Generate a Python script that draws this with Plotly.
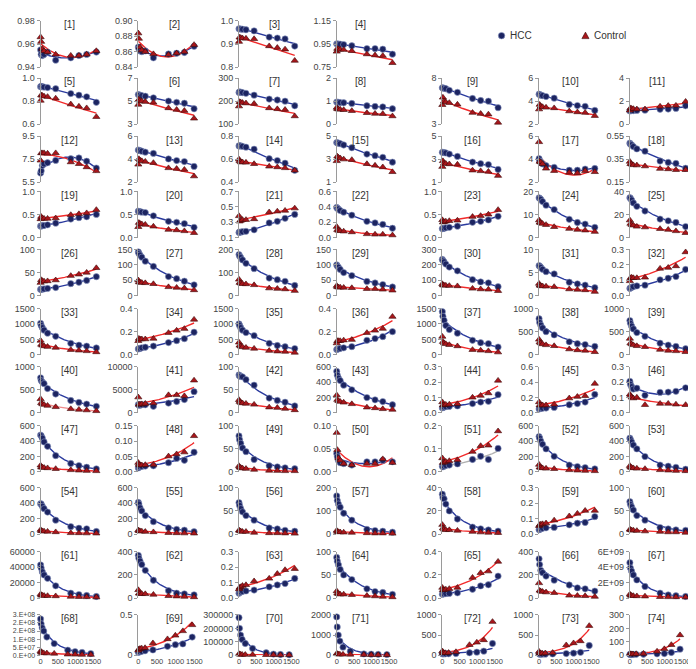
import numpy as np
import plotly.graph_objects as go

# sampling times (same for every panel)
times = [0, 15, 45, 90, 180, 390, 780, 990, 1190, 1440]

# y tick labels per panel (first/last = axis range)
yt_1 = ["0.94", "0.96", "0.98"]
yt_2 = ["0.84", "0.86", "0.88", "0.90"]
yt_3 = ["0.8", "0.9", "1.0"]
yt_4 = ["0.75", "0.95", "1.15"]
yt_5 = ["0.6", "0.8", "1.0"]
yt_6 = ["3", "5", "7"]
yt_7 = ["100", "200", "300"]
yt_8 = ["0", "1", "2"]
yt_9 = ["3", "8"]
yt_10 = ["2", "4", "6"]
yt_11 = ["0", "2", "4"]
yt_12 = ["5.5", "7.5", "9.5"]
yt_13 = ["2", "4", "6"]
yt_14 = ["0.4", "0.6", "0.8"]
yt_15 = ["1", "3", "5"]
yt_16 = ["1", "3", "5"]
yt_17 = ["2", "4", "6"]
yt_18 = ["0.15", "0.35", "0.55"]
yt_19 = ["0.0", "0.5", "1.0"]
yt_20 = ["0.0", "0.5", "1.0"]
yt_21 = ["0.1", "0.3", "0.5", "0.7"]
yt_22 = ["0.0", "0.2", "0.4", "0.6"]
yt_23 = ["0.0", "0.5", "1.0"]
yt_24 = ["0", "10", "20"]
yt_25 = ["0", "20", "40"]
yt_26 = ["0", "50", "100"]
yt_27 = ["0", "50", "100", "150"]
yt_28 = ["0", "100", "200"]
yt_29 = ["0", "50", "100", "150"]
yt_30 = ["0", "100", "200", "300"]
yt_31 = ["0", "5", "10"]
yt_32 = ["0.0", "0.1", "0.2", "0.3"]
yt_33 = ["0", "500", "1000", "1500"]
yt_34 = ["0.0", "0.2", "0.4"]
yt_35 = ["0", "500", "1000", "1500"]
yt_36 = ["0.0", "0.2", "0.4"]
yt_37 = ["0", "500", "1000", "1500"]
yt_38 = ["0", "500", "1000"]
yt_39 = ["0", "500", "1000"]
yt_40 = ["0", "500", "1000"]
yt_41 = ["0", "5000", "10000"]
yt_42 = ["0", "50", "100"]
yt_43 = ["0", "200", "400", "600"]
yt_44 = ["0.0", "0.1", "0.2", "0.3"]
yt_45 = ["0.0", "0.2", "0.4", "0.6"]
yt_46 = ["0.0", "0.1", "0.2", "0.3"]
yt_47 = ["0", "200", "400", "600"]
yt_48 = ["0.00", "0.05", "0.10", "0.15"]
yt_49 = ["0", "50", "100"]
yt_50 = ["0.00", "0.05", "0.10"]
yt_51 = ["0.0", "0.1", "0.2"]
yt_52 = ["0", "200", "400", "600"]
yt_53 = ["0", "200", "400", "600"]
yt_54 = ["0", "200", "400", "600"]
yt_55 = ["0", "200", "400", "600"]
yt_56 = ["0", "50", "100"]
yt_57 = ["0", "100", "200"]
yt_58 = ["0", "20", "40"]
yt_59 = ["0.0", "0.1", "0.2", "0.3"]
yt_60 = ["0", "50", "100"]
yt_61 = ["0", "20000", "40000", "60000"]
yt_62 = ["0", "200", "400"]
yt_63 = ["0.0", "0.1", "0.2", "0.3"]
yt_64 = ["0", "50", "100"]
yt_65 = ["0.0", "0.2", "0.4"]
yt_66 = ["0", "200", "400"]
yt_67 = ["0", "2E+09", "4E+09", "6E+09"]
yt_68 = ["0.E+00", "5.E+07", "1.E+08", "2.E+08", "2.E+08", "3.E+08"]
yv_68 = [0, 5e7, 1e8, 1.5e8, 2e8, 2.5e8]
yt_69 = ["0", "0.5"]
yt_70 = ["0", "100000", "200000", "300000"]
yt_71 = ["0", "1000", "2000"]
yt_72 = ["0", "500", "1000"]
yt_73 = ["0", "500", "1000"]
yt_74 = ["0", "100", "200", "300"]

# HCC / Control values per panel
hcc_1 = [0.955, 0.951, 0.950, 0.951, 0.953, 0.946, 0.948, 0.950, 0.951, 0.953]
ctl_1 = [0.966, 0.962, 0.956, 0.954, 0.953, 0.951, 0.950, 0.950, 0.951, 0.954]
hcc_2 = [0.866, 0.864, 0.861, 0.860, 0.861, 0.852, 0.857, 0.858, 0.859, 0.867]
ctl_2 = [0.884, 0.877, 0.866, 0.862, 0.860, 0.857, 0.856, 0.858, 0.860, 0.869]
hcc_3 = [0.966, 0.966, 0.965, 0.964, 0.962, 0.957, 0.930, 0.926, 0.922, 0.891]
ctl_3 = [0.910, 0.929, 0.927, 0.925, 0.924, 0.922, 0.891, 0.884, 0.877, 0.828]
hcc_4 = [0.952, 0.950, 0.950, 0.948, 0.945, 0.935, 0.910, 0.910, 0.905, 0.862]
ctl_4 = [0.885, 0.910, 0.905, 0.903, 0.900, 0.890, 0.862, 0.853, 0.848, 0.786]
hcc_5 = [0.925, 0.927, 0.925, 0.922, 0.918, 0.908, 0.866, 0.852, 0.838, 0.790]
ctl_5 = [0.805, 0.852, 0.848, 0.842, 0.838, 0.824, 0.773, 0.754, 0.740, 0.664]
hcc_6 = [5.57, 5.55, 5.52, 5.48, 5.43, 5.29, 5.01, 4.90, 4.82, 4.34]
ctl_6 = [4.70, 5.15, 5.05, 5.00, 4.95, 4.88, 4.40, 4.26, 4.17, 3.50]
hcc_7 = [238, 240, 239, 237, 234, 226, 209, 205, 200, 180]
ctl_7 = [178, 197, 195, 193, 191, 189, 170, 166, 163, 135]
hcc_8 = [0.96, 0.95, 0.95, 0.94, 0.93, 0.90, 0.80, 0.77, 0.75, 0.67]
ctl_8 = [0.72, 0.66, 0.65, 0.64, 0.62, 0.58, 0.49, 0.46, 0.45, 0.35]
hcc_9 = [6.95, 6.93, 6.90, 6.85, 6.68, 6.46, 5.79, 5.57, 5.50, 4.79]
ctl_9 = [5.10, 5.90, 5.50, 5.40, 5.32, 5.14, 4.25, 4.14, 4.07, 3.18]
hcc_10 = [4.60, 4.57, 4.52, 4.48, 4.40, 4.26, 3.71, 3.62, 3.55, 3.20]
ctl_10 = [3.30, 3.70, 3.55, 3.50, 3.45, 3.40, 3.13, 3.05, 3.00, 2.73]
hcc_11 = [1.15, 1.17, 1.18, 1.18, 1.20, 1.22, 1.30, 1.32, 1.37, 1.60]
ctl_11 = [1.20, 1.40, 1.35, 1.33, 1.30, 1.30, 1.54, 1.60, 1.62, 1.96]
hcc_12 = [6.30, 6.50, 6.95, 7.10, 7.20, 7.40, 7.55, 7.61, 7.33, 6.74]
ctl_12 = [7.40, 8.04, 8.04, 8.04, 8.00, 8.04, 7.25, 7.10, 6.82, 6.48]
hcc_13 = [4.80, 4.78, 4.75, 4.70, 4.62, 4.51, 4.03, 3.89, 3.80, 3.38]
ctl_13 = [3.55, 4.03, 3.90, 3.85, 3.80, 3.69, 3.24, 3.18, 3.10, 2.53]
hcc_14 = [0.715, 0.718, 0.715, 0.712, 0.705, 0.687, 0.605, 0.589, 0.566, 0.504]
ctl_14 = [0.600, 0.585, 0.575, 0.575, 0.572, 0.560, 0.538, 0.532, 0.524, 0.504]
hcc_15 = [4.45, 4.43, 4.40, 4.35, 4.24, 4.00, 3.45, 3.31, 3.17, 2.75]
ctl_15 = [2.85, 3.25, 3.15, 3.10, 3.00, 2.95, 2.60, 2.46, 2.32, 1.90]
hcc_16 = [3.60, 3.60, 3.58, 3.55, 3.45, 3.25, 2.76, 2.62, 2.54, 2.12]
ctl_16 = [2.35, 2.85, 2.65, 2.62, 2.58, 2.55, 2.04, 1.98, 1.93, 1.57]
hcc_17 = [4.05, 3.85, 3.75, 3.60, 3.45, 3.30, 3.05, 3.05, 3.15, 3.20]
ctl_17 = [5.50, 3.80, 3.75, 3.60, 3.20, 3.00, 2.85, 2.80, 3.00, 2.90]
hcc_18 = [0.49, 0.48, 0.475, 0.46, 0.44, 0.42, 0.335, 0.323, 0.314, 0.272]
ctl_18 = [0.33, 0.31, 0.305, 0.300, 0.298, 0.290, 0.268, 0.265, 0.258, 0.258]
hcc_19 = [0.245, 0.25, 0.255, 0.26, 0.275, 0.31, 0.40, 0.43, 0.45, 0.50]
ctl_19 = [0.40, 0.45, 0.42, 0.41, 0.41, 0.42, 0.49, 0.51, 0.53, 0.60]
hcc_20 = [0.57, 0.56, 0.56, 0.55, 0.54, 0.47, 0.35, 0.33, 0.30, 0.22]
ctl_20 = [0.23, 0.32, 0.30, 0.29, 0.28, 0.24, 0.17, 0.16, 0.14, 0.10]
hcc_21 = [0.165, 0.168, 0.170, 0.175, 0.18, 0.20, 0.29, 0.31, 0.35, 0.40]
ctl_21 = [0.38, 0.31, 0.32, 0.33, 0.33, 0.34, 0.43, 0.44, 0.45, 0.48]
hcc_22 = [0.39, 0.38, 0.37, 0.35, 0.33, 0.29, 0.21, 0.19, 0.17, 0.12]
ctl_22 = [0.14, 0.10, 0.09, 0.085, 0.08, 0.07, 0.045, 0.04, 0.04, 0.03]
hcc_23 = [0.19, 0.195, 0.20, 0.21, 0.22, 0.245, 0.33, 0.35, 0.38, 0.46]
ctl_23 = [0.38, 0.33, 0.34, 0.35, 0.36, 0.37, 0.45, 0.47, 0.50, 0.60]
hcc_24 = [17.2, 17.0, 16.5, 15.6, 14.0, 12.1, 7.9, 6.5, 5.8, 4.4]
ctl_24 = [7.5, 6.5, 6.3, 6.0, 5.5, 4.6, 3.8, 3.4, 3.1, 2.5]
hcc_25 = [34.5, 34.0, 32.5, 30.0, 27.0, 23.0, 16.0, 14.5, 13.0, 9.5]
ctl_25 = [15.0, 12.0, 11.0, 10.5, 9.5, 8.9, 7.5, 6.8, 5.6, 4.0]
hcc_26 = [13.5, 13.8, 14.0, 14.5, 15.5, 17.5, 26.0, 29.0, 33.0, 41.0]
ctl_26 = [28.0, 34.0, 32.0, 31.0, 31.5, 33.5, 43.0, 46.0, 50.0, 60.0]
hcc_27 = [142, 137, 132, 125, 112, 95, 62, 55, 47, 35]
ctl_27 = [50, 44, 43, 42, 41, 38, 28, 26, 24, 18]
hcc_28 = [178, 172, 165, 155, 140, 117, 76, 69, 62, 44]
ctl_28 = [70, 56, 53, 51, 50, 46, 32, 30, 28, 21]
hcc_29 = [100, 96, 92, 85, 75, 65, 46, 41, 36, 28]
ctl_29 = [32, 28, 27, 27, 26, 25, 22, 22, 20, 17]
hcc_30 = [235, 228, 220, 205, 186, 161, 104, 89, 83, 58]
ctl_30 = [76, 68, 67, 66, 64, 62, 46, 42, 40, 31]
hcc_31 = [6.5, 6.4, 6.1, 5.7, 5.2, 4.7, 2.9, 2.55, 2.28, 1.72]
ctl_31 = [2.6, 2.2, 2.1, 2.05, 2.0, 1.9, 1.4, 1.3, 1.2, 0.85]
hcc_32 = [0.047, 0.050, 0.054, 0.058, 0.063, 0.068, 0.103, 0.113, 0.124, 0.170]
ctl_32 = [0.095, 0.115, 0.118, 0.115, 0.115, 0.118, 0.176, 0.182, 0.192, 0.283]
hcc_33 = [1020, 950, 880, 800, 700, 600, 370, 310, 280, 220]
ctl_33 = [460, 330, 300, 280, 260, 230, 160, 140, 120, 85]
hcc_34 = [0.050, 0.052, 0.055, 0.060, 0.065, 0.075, 0.105, 0.122, 0.139, 0.195]
ctl_34 = [0.12, 0.14, 0.135, 0.135, 0.135, 0.14, 0.19, 0.21, 0.225, 0.305]
hcc_35 = [1000, 950, 880, 800, 720, 620, 370, 300, 260, 200]
ctl_35 = [400, 300, 270, 250, 230, 200, 130, 110, 100, 70]
hcc_36 = [0.045, 0.048, 0.05, 0.055, 0.06, 0.07, 0.125, 0.14, 0.157, 0.20]
ctl_36 = [0.10, 0.12, 0.12, 0.12, 0.125, 0.13, 0.19, 0.21, 0.226, 0.33]
hcc_37 = [1400, 1250, 1120, 950, 820, 700, 470, 390, 360, 250]
ctl_37 = [590, 420, 380, 350, 320, 280, 160, 140, 120, 80]
hcc_38 = [780, 700, 640, 580, 500, 430, 280, 240, 220, 180]
ctl_38 = [330, 270, 250, 230, 210, 190, 120, 100, 90, 60]
hcc_39 = [740, 680, 620, 560, 480, 400, 250, 210, 180, 130]
ctl_39 = [350, 250, 230, 210, 190, 170, 110, 90, 80, 60]
hcc_40 = [760, 700, 668, 633, 527, 409, 268, 226, 190, 141]
ctl_40 = [300, 215, 190, 177, 156, 127, 84, 70, 57, 40]
hcc_41 = [1770, 1700, 1650, 1770, 1750, 1420, 2110, 2460, 2880, 4580]
ctl_41 = [3380, 1800, 1850, 1900, 2000, 2100, 3870, 3870, 3650, 7040]
hcc_42 = [82, 80, 79, 78, 72, 60, 32, 27, 23, 15]
ctl_42 = [28, 24, 22, 21, 20, 18, 12, 11, 9, 6]
hcc_43 = [540, 490, 450, 420, 360, 300, 198, 169, 147, 105]
ctl_43 = [230, 170, 155, 145, 135, 115, 71, 62, 50, 42]
hcc_44 = [0.032, 0.035, 0.038, 0.040, 0.042, 0.045, 0.060, 0.070, 0.075, 0.118]
ctl_44 = [0.070, 0.050, 0.052, 0.054, 0.055, 0.058, 0.100, 0.112, 0.128, 0.210]
hcc_45 = [0.05, 0.055, 0.058, 0.06, 0.063, 0.07, 0.105, 0.12, 0.14, 0.24]
ctl_45 = [0.14, 0.10, 0.10, 0.10, 0.10, 0.11, 0.19, 0.21, 0.22, 0.38]
hcc_46 = [0.205, 0.185, 0.170, 0.155, 0.160, 0.114, 0.133, 0.135, 0.140, 0.163]
ctl_46 = [0.120, 0.110, 0.100, 0.095, 0.100, 0.052, 0.060, 0.060, 0.055, 0.052]
hcc_47 = [480, 470, 440, 390, 334, 212, 110, 82, 61, 40]
ctl_47 = [85, 60, 58, 55, 50, 40, 25, 20, 15, 12]
hcc_48 = [0.013, 0.016, 0.017, 0.018, 0.019, 0.020, 0.030, 0.044, 0.038, 0.064]
ctl_48 = [0.030, 0.024, 0.022, 0.022, 0.023, 0.024, 0.051, 0.058, 0.064, 0.117]
hcc_49 = [78, 70, 62, 52, 44, 27, 13.5, 11, 9, 7]
ctl_49 = [13, 10, 9, 8, 7, 5, 3, 2.5, 2, 2]
hcc_50 = [0.040, 0.033, 0.025, 0.020, 0.018, 0.015, 0.022, 0.022, 0.025, 0.022]
ctl_50 = [0.085, 0.048, 0.030, 0.025, 0.018, 0.015, 0.018, 0.018, 0.028, 0.020]
hcc_51 = [0.025, 0.022, 0.025, 0.028, 0.030, 0.035, 0.054, 0.068, 0.054, 0.102]
ctl_51 = [0.060, 0.040, 0.042, 0.045, 0.048, 0.052, 0.088, 0.113, 0.115, 0.177]
hcc_52 = [460, 440, 400, 360, 300, 203, 90, 70, 56, 40]
ctl_52 = [95, 60, 55, 50, 45, 40, 25, 20, 16, 12]
hcc_53 = [440, 420, 390, 350, 300, 200, 90, 75, 60, 35]
ctl_53 = [80, 60, 55, 50, 45, 40, 25, 20, 15, 12]
hcc_54 = [395, 390, 360, 330, 285, 180, 96, 75, 68, 33]
ctl_54 = [55, 40, 38, 35, 32, 25, 13, 12, 10, 8]
hcc_55 = [410, 390, 340, 300, 240, 160, 80, 60, 50, 30]
ctl_55 = [50, 40, 38, 35, 30, 25, 15, 12, 10, 8]
hcc_56 = [68, 62, 55, 48, 40, 30, 13, 11, 8, 6]
ctl_56 = [8, 7, 6, 5, 5, 3, 2, 2, 1.5, 1]
hcc_57 = [165, 145, 130, 116, 90, 60, 20, 15, 12, 8]
ctl_57 = [15, 10, 9, 8, 7, 6, 4, 3, 3, 2]
hcc_58 = [34.5, 31.5, 30.5, 26, 20, 13, 6, 4.5, 3.5, 2.5]
ctl_58 = [8, 5, 4, 3.5, 3.5, 3, 2, 1.5, 1.2, 1]
hcc_59 = [0.028, 0.030, 0.035, 0.037, 0.040, 0.043, 0.060, 0.070, 0.075, 0.113]
ctl_59 = [0.053, 0.060, 0.063, 0.065, 0.070, 0.089, 0.116, 0.133, 0.152, 0.152]
hcc_60 = [70, 64, 59, 52, 40, 30, 14, 11, 9, 8]
ctl_60 = [10, 9, 8, 8, 7, 6, 5, 4, 4, 3]
hcc_61 = [43000, 39000, 34000, 30000, 25600, 15900, 6300, 4500, 3300, 2000]
ctl_61 = [5000, 3500, 3300, 3000, 2800, 2500, 1800, 1500, 1300, 1000]
hcc_62 = [370, 345, 320, 290, 240, 154, 64, 42, 36, 28]
ctl_62 = [70, 40, 38, 36, 35, 30, 18, 15, 12, 8]
hcc_63 = [0.031, 0.036, 0.040, 0.043, 0.046, 0.052, 0.073, 0.085, 0.094, 0.127]
ctl_63 = [0.058, 0.068, 0.072, 0.080, 0.085, 0.110, 0.127, 0.158, 0.183, 0.190]
hcc_64 = [88, 80, 72, 62, 50, 40, 20, 14, 12, 8]
ctl_64 = [15, 10, 9, 8, 8, 7, 5, 4, 3, 2]
hcc_65 = [0.033, 0.035, 0.037, 0.038, 0.040, 0.045, 0.076, 0.105, 0.115, 0.190]
ctl_65 = [0.09, 0.07, 0.07, 0.075, 0.08, 0.09, 0.177, 0.218, 0.232, 0.316]
hcc_66 = [340, 290, 240, 220, 190, 155, 113, 88, 80, 60]
ctl_66 = [130, 65, 58, 55, 50, 45, 22, 20, 18, 12]
hcc_67 = [4.6e9, 3.9e9, 3.5e9, 3.0e9, 2.35e9, 1.5e9, 0.64e9, 0.4e9, 0.3e9, 0.2e9]
ctl_67 = [0.5e9, 0.35e9, 0.3e9, 0.28e9, 0.25e9, 0.22e9, 0.15e9, 0.13e9, 0.12e9, 0.1e9]
hcc_68 = [2.25e8, 1.95e8, 1.7e8, 1.5e8, 1.13e8, 0.72e8, 0.31e8, 0.22e8, 0.17e8, 0.1e8]
ctl_68 = [0.25e8, 0.18e8, 0.15e8, 0.13e8, 0.12e8, 0.1e8, 0.05e8, 0.04e8, 0.03e8, 0.03e8]
hcc_69 = [0.035, 0.038, 0.042, 0.048, 0.055, 0.065, 0.11, 0.13, 0.14, 0.225]
ctl_69 = [0.060, 0.075, 0.080, 0.085, 0.09, 0.15, 0.20, 0.245, 0.30, 0.375]
hcc_70 = [280000, 200000, 150000, 117000, 87000, 50000, 18000, 8000, 5000, 3000]
ctl_70 = [10000, 6000, 5000, 4000, 3500, 3000, 2000, 1500, 1000, 1000]
hcc_71 = [1900, 1400, 1000, 700, 400, 200, 60, 50, 40, 30]
ctl_71 = [80, 60, 50, 40, 35, 30, 20, 15, 12, 10]
hcc_72 = [40, 30, 30, 35, 35, 40, 60, 75, 100, 290]
ctl_72 = [100, 60, 55, 55, 60, 80, 256, 317, 376, 830]
hcc_73 = [40, 25, 25, 25, 25, 30, 40, 50, 70, 240]
ctl_73 = [90, 50, 45, 45, 50, 60, 250, 300, 350, 730]
hcc_74 = [5, 5, 5, 5, 6, 7, 10, 12, 20, 45]
ctl_74 = [10, 8, 8, 8, 9, 12, 28, 46, 77, 150]

# panels fitted with a 2nd-order polynomial instead of exponential
poly_hcc = [1, 2, 12, 17, 46, 50]
poly_ctl = [1, 2, 12, 17, 50]

W, H = 696, 669
col_x = [31, 130, 232, 331, 438, 536, 628]
label_x = [60, 167, 268, 355, 469, 568, 655]
row_top = [8, 66, 125, 181, 240, 300, 359, 419, 482, 547, 611]
row_h = [47] * 10 + [41]
XMAX = 1530
tt = np.linspace(0, 1440, 80)

NAVY = "#1c2461"
NAVY_EDGE = "#8d9bc4"
BLUE = "#2a3a9e"
DRED = "#a8161b"
DRED_EDGE = "#3a0a0a"
RED = "#f22a2a"
FONT = "Liberation Sans, Arial, sans-serif"


def fit(y, poly):
    t = np.array(times, float)
    y = np.array(y, float)
    if poly:
        return np.polyval(np.polyfit(t, y, 2), tt)
    b, a = np.polyfit(t, np.log(y), 1)
    return np.exp(a + b * tt)


fig = go.Figure()
layout = {}
annotations = []

for k in range(1, 75):
    if k <= 4:
        r, c = 0, k - 1
    else:
        r, c = 1 + (k - 5) // 7, (k - 5) % 7
    x0 = col_x[c]
    w = 54 if r == 10 else 60
    if k == 69:
        w = 58
    top, h = row_top[r], row_h[r]
    sfx = "" if k == 1 else str(k)

    labels = globals()[f"yt_{k}"]
    vals = yv_68 if k == 68 else [float(s) for s in labels]
    lo, hi = vals[0], vals[-1]
    eps = (hi - lo) * 0.002

    hcc = globals()[f"hcc_{k}"]
    ctl = globals()[f"ctl_{k}"]

    hline = "#b0b0b0" if k == 51 else BLUE
    cline = "#f08a8a" if k == 40 else RED

    fig.add_trace(go.Scatter(x=tt, y=fit(hcc, k in poly_hcc), mode="lines",
                             line=dict(color=hline, width=1.4), showlegend=False,
                             xaxis="x" + sfx, yaxis="y" + sfx, hoverinfo="skip"))
    fig.add_trace(go.Scatter(x=tt, y=fit(ctl, k in poly_ctl), mode="lines",
                             line=dict(color=cline, width=1.4), showlegend=False,
                             xaxis="x" + sfx, yaxis="y" + sfx, hoverinfo="skip"))
    fig.add_trace(go.Scatter(x=times, y=hcc, mode="markers", cliponaxis=False,
                             marker=dict(symbol="circle", size=6.3, color=NAVY,
                                         line=dict(color=NAVY_EDGE, width=0.6)),
                             showlegend=False, xaxis="x" + sfx, yaxis="y" + sfx))
    fig.add_trace(go.Scatter(x=times, y=ctl, mode="markers", cliponaxis=False,
                             marker=dict(symbol="triangle-up", size=6.3, color=DRED,
                                         line=dict(color=DRED_EDGE, width=0.6)),
                             showlegend=False, xaxis="x" + sfx, yaxis="y" + sfx))

    layout["xaxis" + sfx] = dict(
        domain=[x0 / W, (x0 + w) / W], range=[0, XMAX], anchor="y" + sfx,
        showgrid=False, zeroline=False, showline=False, ticks="",
        showticklabels=(r == 10), tickvals=[0, 500, 1000, 1500], tickangle=0,
        tickfont=dict(size=7.5, color="#444", family=FONT))
    layout["yaxis" + sfx] = dict(
        domain=[1 - (top + h) / H, 1 - top / H], range=[lo - eps, hi + eps],
        anchor="x" + sfx, showgrid=False, zeroline=False, showline=True,
        linecolor="#9a9a9a", linewidth=1, ticks="outside", ticklen=3,
        tickcolor="#9a9a9a", tickvals=vals, ticktext=labels,
        tickfont=dict(size=7 if k == 68 else 9, color="#444", family=FONT))

    annotations.append(dict(x=label_x[c] / W, y=1 - (top + 4) / H, xref="paper", yref="paper",
                            text=f"[{k}]", showarrow=False, xanchor="center", yanchor="middle",
                            font=dict(size=10, color="#333", family=FONT)))

# legend (top right), drawn as shapes + text
leg_y = 23
leg = [("HCC", 498), ("Control", 583)]
for name, mx in leg:
    annotations.append(dict(x=(mx + 7) / W, y=1 - leg_y / H, xref="paper", yref="paper",
                            text=name, showarrow=False, xanchor="left", yanchor="middle",
                            font=dict(size=10, color="#333", family=FONT)))

rr = 3.3
shapes = [
    dict(type="circle", xref="paper", yref="paper",
         x0=(498 - rr) / W, x1=(498 + rr) / W, y0=1 - (leg_y + rr) / H, y1=1 - (leg_y - rr) / H,
         fillcolor=NAVY, line=dict(color=NAVY_EDGE, width=0.6)),
    dict(type="path", xref="paper", yref="paper",
         path=(f"M {(583 - 3.6) / W},{1 - (leg_y + 3) / H} "
               f"L {(583 + 3.6) / W},{1 - (leg_y + 3) / H} "
               f"L {583 / W},{1 - (leg_y - 3.6) / H} Z"),
         fillcolor=DRED, line=dict(color=DRED_EDGE, width=0.6)),
]

fig.update_layout(
    width=W, height=H,
    margin=dict(l=0, r=0, t=0, b=0),
    paper_bgcolor="white", plot_bgcolor="white",
    font=dict(family=FONT, size=10, color="#333"),
    annotations=annotations,
    shapes=shapes,
    showlegend=False,
    **layout,
)

fig.write_html("out.html")
